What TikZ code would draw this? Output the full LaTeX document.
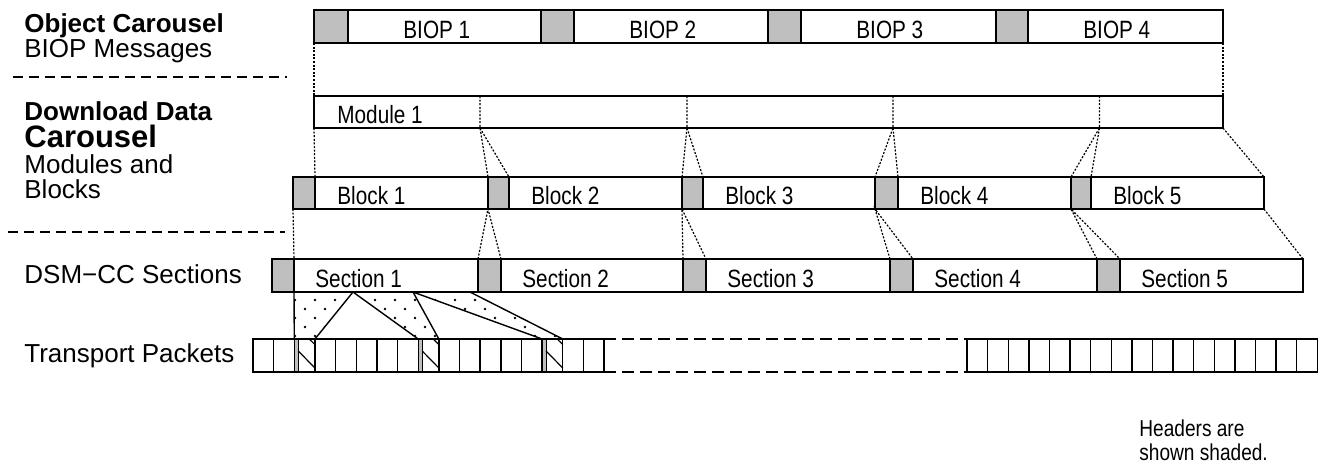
\documentclass[tikz,border=0pt]{standalone}
\usepackage{fontspec}
\setmainfont{Liberation Sans}
\newfontfamily\narrowfont{Liberation Sans}[FakeStretch=0.83]
\usetikzlibrary{calc,fit}
\definecolor{hdrgray}{gray}{0.75}
\tikzset{
  seg/.style={draw, line width=0.7pt, inner sep=0pt, outer sep=0pt},
  hdr/.style={seg, fill=hdrgray},
  pkt/.style={seg},
  boxtxt/.style={inner sep=0pt, anchor=base west, font=\narrowfont\fontsize{12.5}{14}\selectfont},
  notetxt/.style={inner sep=0pt, anchor=base west, font=\narrowfont\fontsize{11.5}{13}\selectfont},
  side/.style={inner sep=0pt, anchor=base west, font=\fontsize{13}{15}\selectfont},
  ln/.style={line width=0.6pt, dash pattern=on 1pt off 0.8pt},
  split/.style={line width=0.7pt},
  sepline/.style={line width=0.7pt, dash pattern=on 5pt off 3pt},
  gapline/.style={line width=0.7pt, dash pattern=on 6pt off 3pt}
}
\begin{document}
\begin{tikzpicture}[x=0.5pt,y=-0.5pt]
\useasboundingbox (0,0) rectangle (1319,463);
% left column
\node[side] (lobj1) at (24,32) {\bfseries Object Carousel};
\node[side] (lobj2) at (24,57) {BIOP Messages};
\node[side] (ldd1) at (24,120) {\bfseries Download Data};
\node[side, font=\bfseries\fontsize{15.5}{17}\selectfont] (ldd2) at (24,147) {Carousel};
\node[side] (ldd3) at (24,173) {Modules and};
\node[side] (ldd4) at (24,198) {Blocks};
\node[side] (ldsm) at (24,283) {DSM−CC Sections};
\node[side] (ltp) at (24,362) {Transport Packets};
\draw[sepline] (13,77) -- (287,77);
\draw[sepline] (8,232) -- (285,232);
% BIOP messages
\foreach \a/\b/\c [count=\n] in {314/348/541, 541/574/768, 768/801/996, 996/1028/1223} {
  \node[hdr, fit={(\a,10)(\b,43)}] (oh\n) {};
  \node[seg, fit={(\b,10)(\c,43)}] (ob\n) {};
  \node[boxtxt] (ot\n) at ($(ob\n.south west)+(55,-4.5)$) {BIOP \n};
}
% module
\node[seg, fit={(314,96)(1223,128)}] (mod) {};
\node[boxtxt] (modt) at ($(mod.south west)+(23,-4.5)$) {Module 1};
\foreach \x [count=\i] in {480,687,893,1099.5} {
  \coordinate (mdt\i) at (\x,96);
  \coordinate (mdb\i) at (\x,128);
}
% blocks
\foreach \a/\b/\c [count=\n] in {293/315/488, 488/509/682, 682/703/875, 875/898/1071, 1071/1091/1264} {
  \node[hdr, fit={(\a,177)(\b,209)}] (bh\n) {};
  \node[seg, fit={(\b,177)(\c,209)}] (bb\n) {};
  \node[boxtxt] (bt\n) at ($(bb\n.south west)+(22,-4.5)$) {Block \n};
}
% sections
\foreach \a/\b/\c [count=\n] in {272/294/478, 478/501/683, 683/706/890, 890/913/1097, 1097/1120/1303} {
  \node[hdr, fit={(\a,259)(\b,292)}] (sh\n) {};
  \node[seg, fit={(\b,259)(\c,292)}] (sb\n) {};
  \node[boxtxt] (st\n) at ($(sb\n.south west)+(21,-4.5)$) {Section \n};
}
% transport packets
\foreach \k in {1,...,17} {
  \node[pkt, fit={({253+(\k-1)*20.65},339) ({253+\k*20.65},372)}] (tp\k) {};
  \node[pkt, fit={({967+(\k-1)*20.6},339) ({967+\k*20.6},372)}] (tq\k) {};
}
\draw[gapline] (tp17.north east) -- (tq1.north west);
\draw[gapline] (tp17.south east) -- (tq1.south west);
\foreach \k in {3,9,15} {
  \fill[hdrgray] (tp\k.north west) rectangle ($(tp\k.south west)+(4,0)$);
  \draw[line width=0.5pt] ($(tp\k.north west)+(4,0)$) -- ($(tp\k.south west)+(4,0)$);
  \draw[line width=0.6pt] ($(tp\k.north west)+(4,12)$) -- ($(tp\k.north east)+(0,29)$);
  \draw[line width=0.6pt] ($(tp\k.north west)+(15,0)$) -- ($(tp\k.north east)+(0,5.5)$);
  \draw[pkt] (tp\k.north west) rectangle (tp\k.south east);
}
% connectors
\draw[ln] (oh1.south west) -- (mod.north west);
\draw[ln] (ob4.south east) -- (mod.north east);
\draw[ln] (mod.south west) -- (bb1.north west);
\draw[ln] (mod.south east) -- (bb5.north east);
\foreach \i [evaluate=\i as \j using int(\i+1)] in {1,...,4} {
  \draw[ln] (mdt\i) -- (mdb\i) -- (bh\j.north west);
  \draw[ln] (mdb\i) -- (bh\j.north east);
}
\draw[ln] (bh1.south west) -- (sb1.north west);
\draw[ln] (bb5.south east) -- (sb5.north east);
\foreach \i in {2,...,5} {
  \draw[ln] (sh\i.north west) -- (bh\i.south west) -- (sh\i.north east);
}
% section 1 into packets
\coordinate (p1) at (353,292);
\coordinate (p2) at (413,292);
\coordinate (p3) at (470,292);
\foreach \u/\v/\w/\z in {sb1.south west/tp3.north west/tp3.north east/p1, p1/tp9.north west/tp9.north east/p2, p2/tp15.north west/tp15.north east/p3} {
  \begin{scope}
    \clip (\u) -- (\v) -- (\w) -- (\z) -- cycle;
    \foreach \i in {0,...,14} \foreach \j in {0,...,5}
      \fill ({285+20*\i+10*mod(\j,2)},{291+9*\j}) circle[radius=0.65pt];
  \end{scope}
}
\draw[split] (sb1.south west) -- (tp3.north west);
\draw[split] (p1) -- (tp3.north east);
\draw[split] (p1) -- (tp9.north west);
\draw[split] (p2) -- (tp9.north east);
\draw[split] (p2) -- (tp15.north west);
\draw[split] (p3) -- (tp15.north east);
% note
\node[notetxt] (note1) at (1139,436) {Headers are};
\node[notetxt] (note2) at (1139,460) {shown shaded.};
\end{tikzpicture}
\end{document}
